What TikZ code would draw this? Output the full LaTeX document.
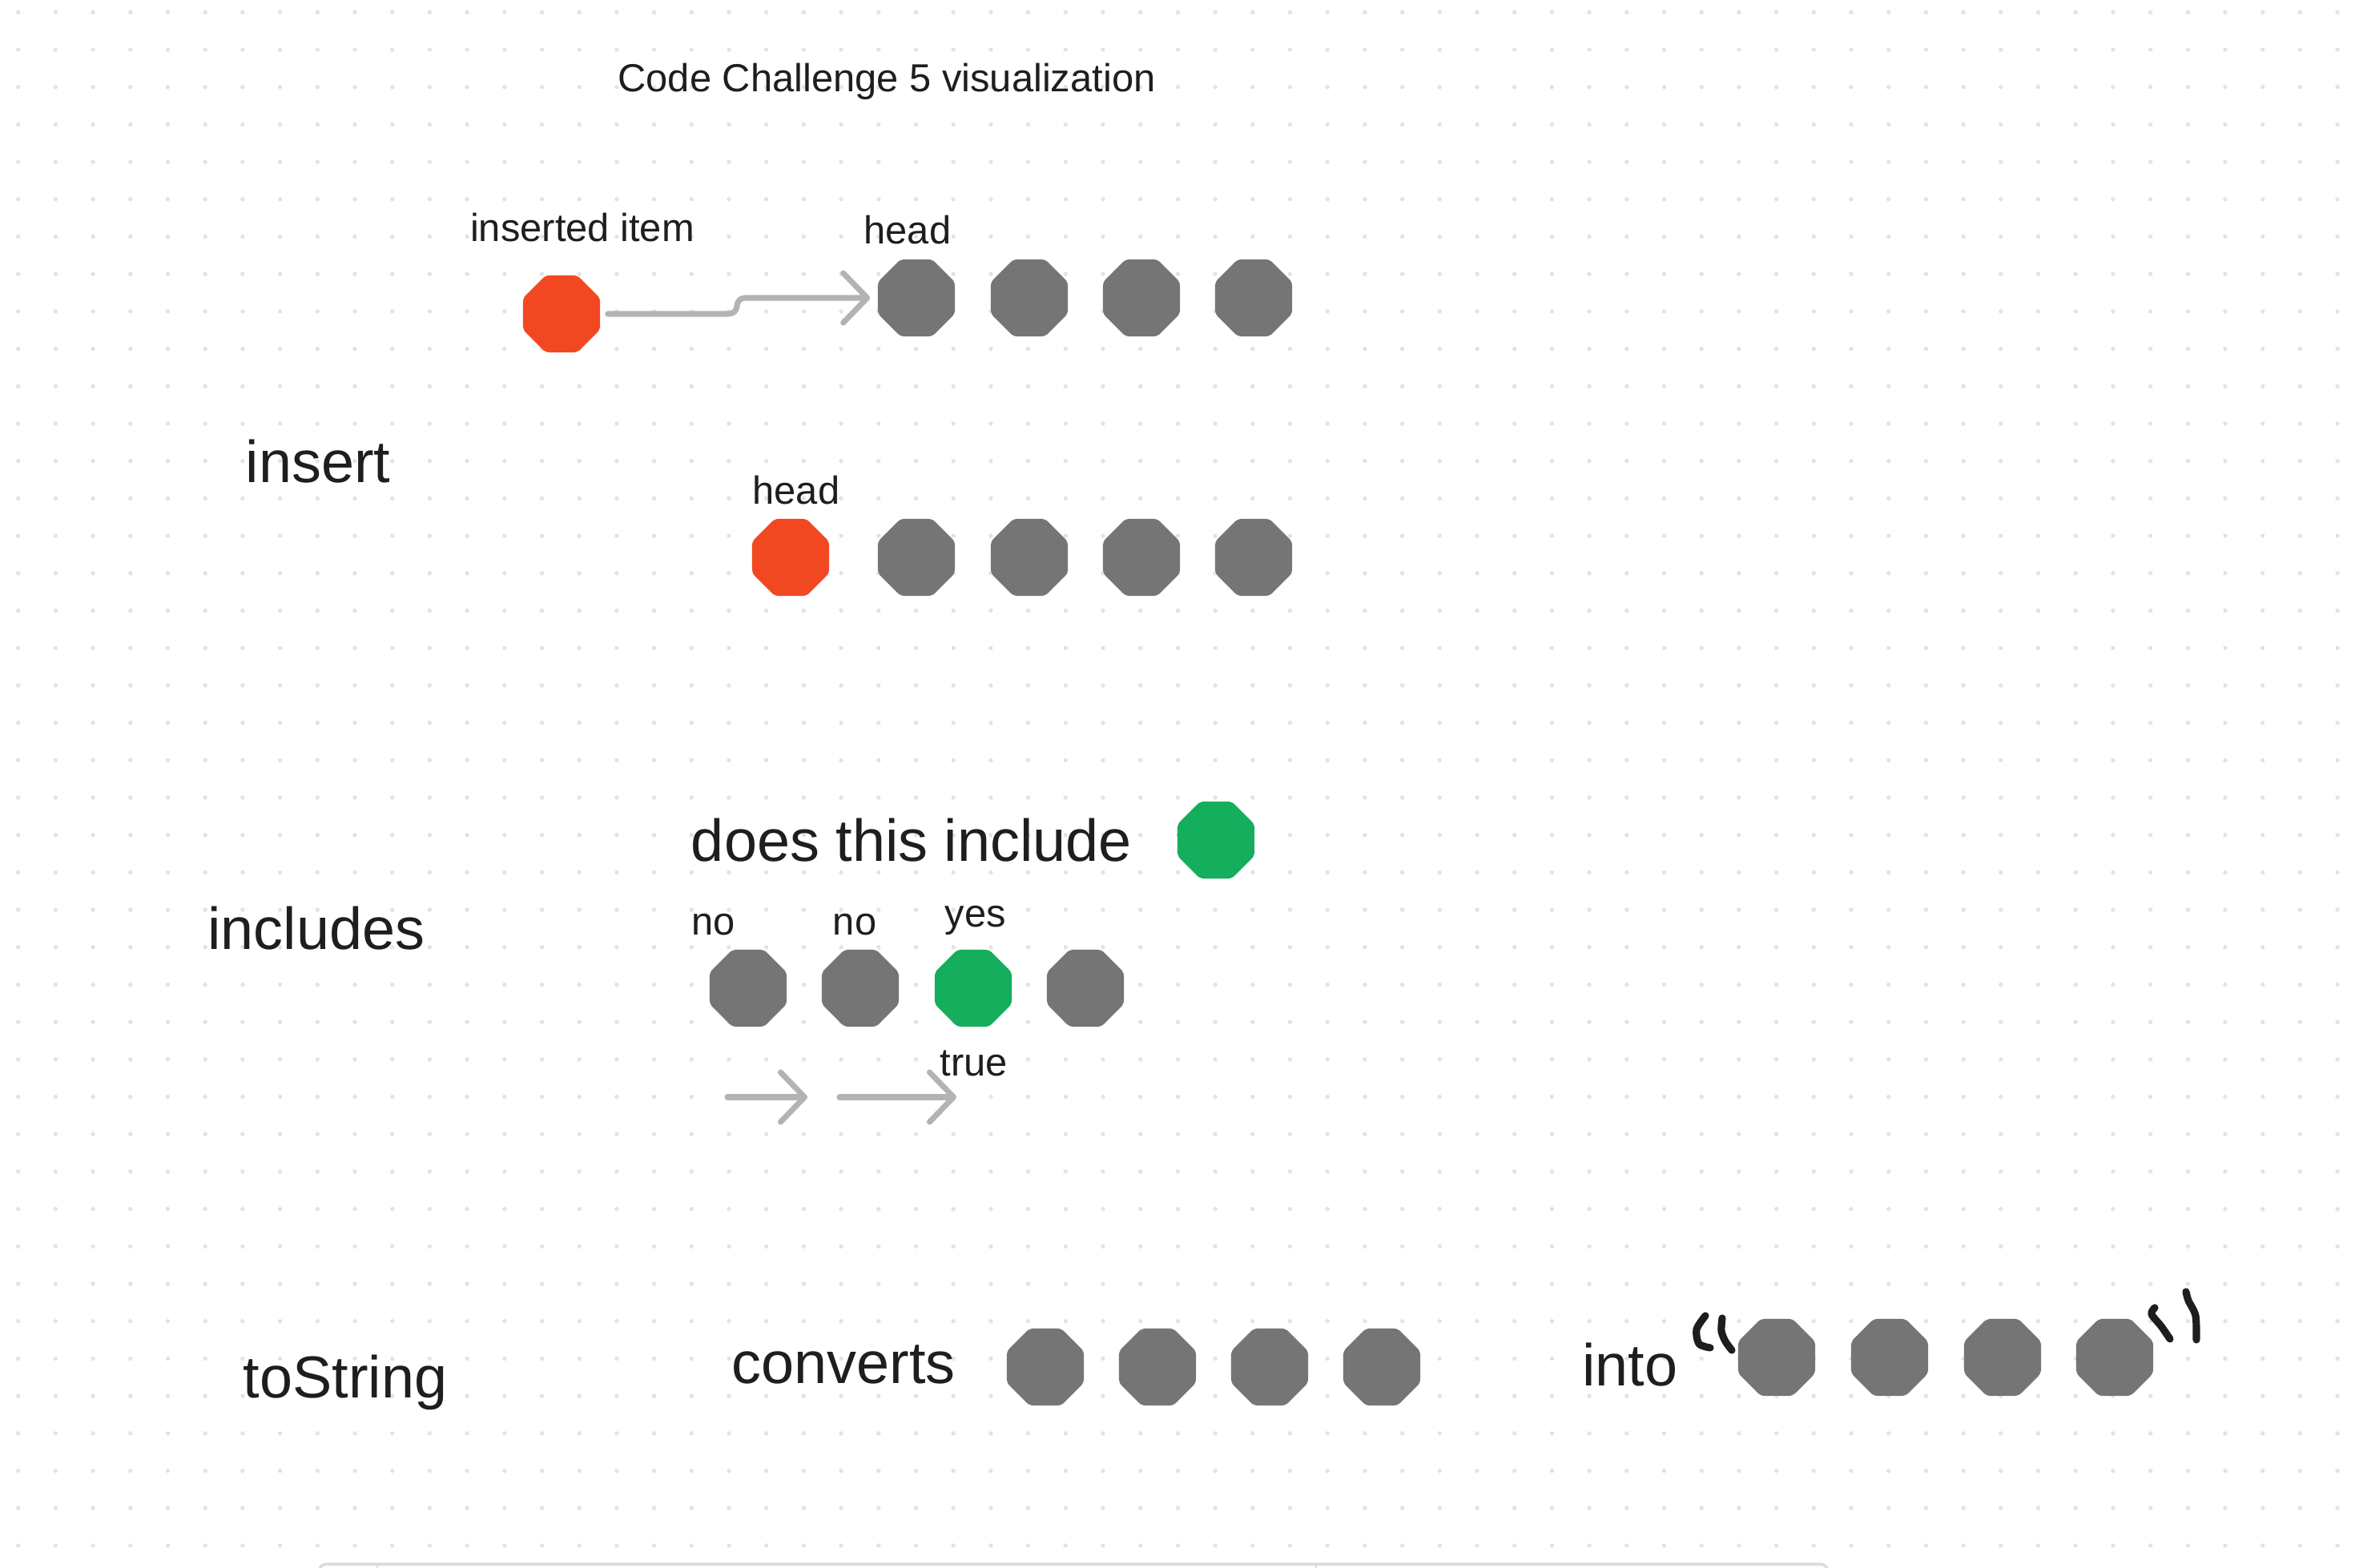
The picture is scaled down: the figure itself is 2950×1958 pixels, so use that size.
\documentclass[tikz,border=0pt]{standalone}
\usepackage{fontspec}
\setmainfont{Liberation Sans}
\usetikzlibrary{shapes.geometric,arrows.meta}
\definecolor{txt}{HTML}{1E1E1E}
\definecolor{octgray}{HTML}{757575}
\definecolor{octred}{HTML}{F24822}
\definecolor{octgreen}{HTML}{14AE5C}
\definecolor{arrowgray}{HTML}{B3B3B3}
\definecolor{dotc}{HTML}{E3E3E3}
\begin{document}
\begin{tikzpicture}[x=0.01cm,y=-0.01cm,
  octnode/.style={regular polygon, regular polygon sides=8, minimum size=1.04cm, inner sep=0pt, fill=octgray, rounded corners=0.05cm},
  redoct/.style={octnode, fill=octred},
  greenoct/.style={octnode, fill=octgreen},
  small/.style={anchor=base, text=txt, font=\fontsize{13.9}{16}\selectfont, inner sep=0pt},
  big/.style={anchor=base, text=txt, font=\fontsize{21}{25}\selectfont, inner sep=0pt},
  arr/.style={draw=arrowgray, line width=2pt, line cap=round, line join=round, -{Straight Barb[length=0.3cm, width=0.62cm, round]}},
  quotestroke/.style={draw=txt, line width=2.6pt, line cap=round, line join=round},
]
\fill[white] (0,0) rectangle (2950,1958);
\useasboundingbox (0,0) rectangle (2950,1958);
% dot grid
\foreach \i in {0,...,62}{\foreach \j in {0,...,41}{\fill[dotc] ({22.7+46.7*\i},{15.3+46.7*\j}) circle[radius=0.027cm];}}
% faint frame at bottom
\draw[black!14, line width=1pt, rounded corners=0.1cm] (398,1975) -- (398,1953) -- (2282,1953) -- (2282,1975);
\draw[black!14, line width=0.6pt] (471,1953) -- (471,1960) (1643,1953) -- (1643,1960);

% title
\node[small] (title) at (1107,115) {Code Challenge 5 visualization};

% insert section
\node[big] (linsert) at (397,603) {insert};
\node[small] (linserted) at (727,302) {inserted item};
\node[small] (lhead1) at (1133,305) {head};
\node[small] (lhead2) at (994,630) {head};
\node[redoct] (ins) at (701,392) {};
\node[octnode] (h1) at (1144,372) {};
\node[octnode] (h2) at (1285,372) {};
\node[octnode] (h3) at (1425,372) {};
\node[octnode] (h4) at (1565,372) {};
\node[redoct] (r0) at (987,696) {};
\node[octnode] (r1) at (1144,696) {};
\node[octnode] (r2) at (1285,696) {};
\node[octnode] (r3) at (1425,696) {};
\node[octnode] (r4) at (1565,696) {};
\draw[arr, rounded corners=0.1cm] ([xshift=0.09cm]ins.east) -- (920,392) -- (920,372) -- ([xshift=-0.09cm]h1.west);

% includes section
\node[big] (lincludes) at (395,1185) {includes};
\node[big] (ldoes) at (1138,1075) {does this include};
\node[greenoct] (q) at (1518,1049) {};
\node[small] (lno1) at (891,1167) {no};
\node[small] (lno2) at (1067,1167) {no};
\node[small] (lyes) at (1218,1157) {yes};
\node[small] (ltrue) at (1216,1343) {true};
\node[octnode] (c1) at (934,1234) {};
\node[octnode] (c2) at (1074,1234) {};
\node[greenoct] (c3) at (1215,1234) {};
\node[octnode] (c4) at (1355,1234) {};
\coordinate (a1s) at (908,1370);
\coordinate (a1e) at (1008,1370);
\coordinate (a2s) at (1048,1370);
\coordinate (a2e) at (1194,1370);
\draw[arr] (a1s) -- (a1e);
\draw[arr] (a2s) -- (a2e);

% toString section
\node[big] (ltostring) at (431,1745) {toString};
\node[big] (lconverts) at (1053,1727) {converts};
\node[big] (linto) at (2035,1730) {into};
\node[octnode] (s1) at (1305,1707) {};
\node[octnode] (s2) at (1445,1707) {};
\node[octnode] (s3) at (1585,1707) {};
\node[octnode] (s4) at (1725,1707) {};
\node[octnode] (t1) at (2218,1695) {};
\node[octnode] (t2) at (2359,1695) {};
\node[octnode] (t3) at (2500,1695) {};
\node[octnode] (t4) at (2640,1695) {};
% hand-drawn quotes
\draw[quotestroke] plot[smooth] coordinates {(2129,1643) (2118,1660) (2121,1678) (2135,1683)};
\draw[quotestroke] plot[smooth] coordinates {(2150,1646) (2149,1662) (2154,1675) (2162,1686)};
\draw[quotestroke] plot[smooth] coordinates {(2690,1633) (2686,1641) (2698,1656) (2709,1672)};
\draw[quotestroke] plot[smooth] coordinates {(2729,1613) (2732,1624) (2741,1643) (2742,1673)};
\end{tikzpicture}
\end{document}
